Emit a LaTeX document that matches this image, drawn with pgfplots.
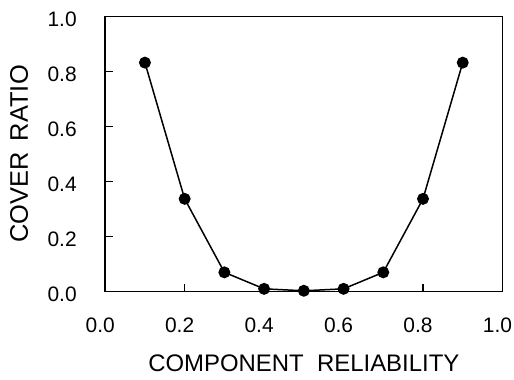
\documentclass[border=0pt]{standalone}
\usepackage{pgfplots}
\pgfplotsset{compat=1.18}
\usepackage{fontspec}
\setmainfont{Liberation Sans}
\begin{document}
\begin{tikzpicture}
\begin{axis}[
  scale only axis,
  width=397bp, height=275bp,
  xmin=0, xmax=1, ymin=0, ymax=1,
  xtick={0,0.2,0.4,0.6,0.8,1.0},
  ytick={0,0.2,0.4,0.6,0.8,1.0},
  xticklabels={0.0,0.2,0.4,0.6,0.8,1.0},
  yticklabels={0.0,0.2,0.4,0.6,0.8,1.0},
  tick align=inside,
  xtick pos=bottom, ytick pos=left,
  major tick length=8bp,
  axis line style={line width=1.5bp},
  every tick/.style={black, line width=1.3bp},
  tick label style={font=\fontsize{21}{23}\selectfont},
  xticklabel style={yshift=-23bp, xshift=-5bp, inner xsep=2bp},
  yticklabel style={xshift=-25bp, yshift=-3bp, inner ysep=12bp},
  xlabel={COMPONENT\ \ RELIABILITY},
  ylabel={COVER\hspace{0.45em}RATIO},
  xlabel style={font=\fontsize{24}{26}\selectfont, at={(axis description cs:0.5,-0.262)}, anchor=center, inner ysep=7bp},
  ylabel style={font=\fontsize{25.5}{28}\selectfont, at={(axis description cs:-0.217,0.5)}, anchor=center, rotate=0, inner ysep=10bp},
  /pgf/number format/assume math mode=true,
]
\addplot[black, line width=1.5bp, mark=*, mark size=5.2bp, mark options={solid, fill=black}] coordinates {
(0.1,0.832) (0.2,0.337) (0.3,0.070) (0.4,0.010) (0.5,0.003) (0.6,0.010) (0.7,0.070) (0.8,0.337) (0.9,0.832)
};
\end{axis}
\end{tikzpicture}
\end{document}
